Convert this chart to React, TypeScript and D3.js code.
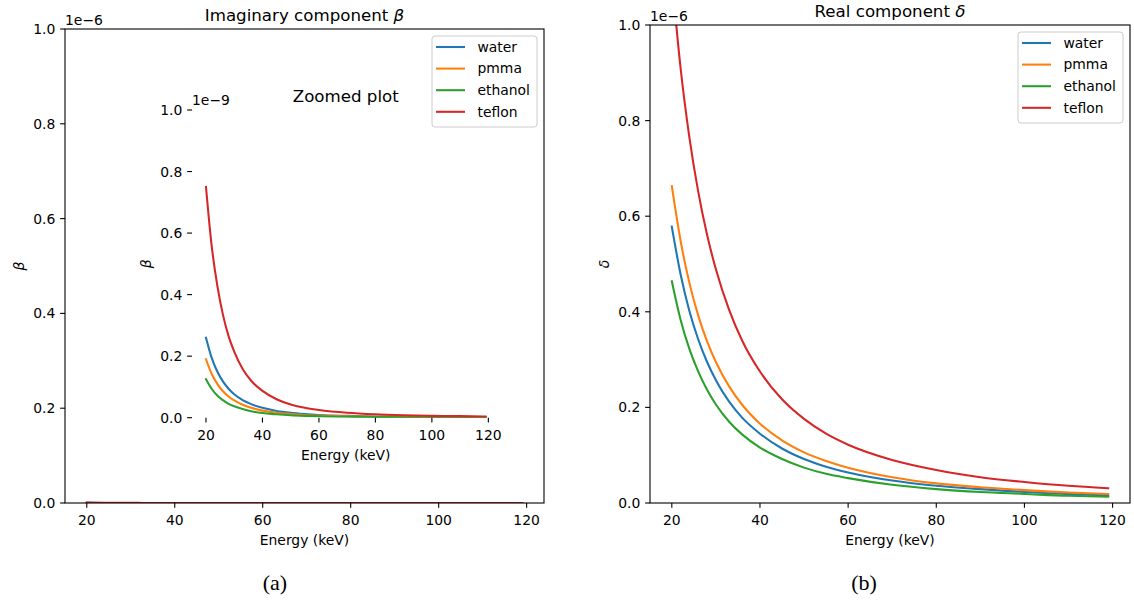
import React from 'react';
import * as d3 from 'd3';

// Photon energies (keV) at which values were read
const energy = [20, 22, 24, 26, 28, 30, 33, 36, 40, 45, 50, 55, 60, 70, 80, 90, 100, 110, 119];
const materials = ['water', 'pmma', 'ethanol', 'teflon'];
const colors = ['#1f77b4', '#ff7f0e', '#2ca02c', '#d62728'];

// Imaginary component beta, in units of 1e-9
const betaWater = [0.26, 0.195, 0.15, 0.118, 0.094, 0.076, 0.057, 0.044, 0.032, 0.022, 0.016, 0.012, 0.009, 0.006, 0.004, 0.003, 0.0025, 0.002, 0.0018];
const betaPmma = [0.19, 0.143, 0.11, 0.086, 0.069, 0.056, 0.042, 0.032, 0.023, 0.016, 0.012, 0.009, 0.007, 0.0045, 0.003, 0.0023, 0.0018, 0.0015, 0.0013];
const betaEthanol = [0.125, 0.094, 0.072, 0.057, 0.045, 0.037, 0.028, 0.021, 0.015, 0.011, 0.008, 0.006, 0.0045, 0.003, 0.002, 0.0015, 0.0012, 0.001, 0.0009];
const betaTeflon = [0.75, 0.56, 0.43, 0.335, 0.265, 0.215, 0.158, 0.12, 0.087, 0.06, 0.043, 0.032, 0.025, 0.016, 0.011, 0.008, 0.006, 0.005, 0.004];

// Real component delta, in units of 1e-6
const deltaWater = [0.578, 0.478, 0.401, 0.342, 0.295, 0.257, 0.212, 0.178, 0.145, 0.114, 0.092, 0.076, 0.064, 0.047, 0.036, 0.029, 0.023, 0.019, 0.016];
const deltaPmma = [0.663, 0.548, 0.46, 0.392, 0.338, 0.295, 0.244, 0.205, 0.166, 0.131, 0.106, 0.088, 0.074, 0.054, 0.041, 0.033, 0.027, 0.022, 0.019];
const deltaEthanol = [0.464, 0.383, 0.322, 0.275, 0.237, 0.206, 0.17, 0.143, 0.116, 0.092, 0.074, 0.061, 0.052, 0.038, 0.029, 0.023, 0.019, 0.015, 0.013];
const deltaTeflon = [1.1, 0.909, 0.764, 0.651, 0.561, 0.489, 0.404, 0.339, 0.275, 0.217, 0.176, 0.145, 0.122, 0.09, 0.069, 0.054, 0.044, 0.036, 0.031];

const xTicks = [20, 40, 60, 80, 100, 120];
const yTicks = [0, 0.2, 0.4, 0.6, 0.8, 1.0];
const xDomain: [number, number] = [15.05, 123.95];

const FONT = '"DejaVu Sans", sans-serif';
const FS = 13.9;
const TICK = 4.86;

type PanelProps = {
  id: string;
  left: number; right: number; top: number; bottom: number;
  series: number[][];
  scaleDiv: number;
  title: string;
  titleX?: number;
  titleItalic?: string;
  ylabel: string;
  offset: string;
  offsetDy: number;
  spines: boolean;
};

function Panel(p: PanelProps) {
  const x = d3.scaleLinear().domain(xDomain).range([p.left, p.right]);
  const y = d3.scaleLinear().domain([0, 1]).range([p.bottom, p.top]);
  const line = d3.line<number>()
    .x((_, i) => x(energy[i]))
    .y((d) => y(d / p.scaleDiv))
    .curve(d3.curveMonotoneX);
  const fmt = d3.format('.1f');
  const cx = (p.left + p.right) / 2;
  const cy = (p.top + p.bottom) / 2;
  return (
    <g>
      <defs>
        <clipPath id={p.id}>
          <rect x={p.left} y={p.top} width={p.right - p.left} height={p.bottom - p.top} />
        </clipPath>
      </defs>
      <g clipPath={`url(#${p.id})`}>
        {p.series.map((s, k) => (
          <path key={k} d={line(s) || ''} fill="none" stroke={colors[k]} strokeWidth={2.08} strokeLinejoin="round" strokeLinecap="square" />
        ))}
      </g>
      {p.spines && (
        <rect x={p.left} y={p.top} width={p.right - p.left} height={p.bottom - p.top} fill="none" stroke="#000" strokeWidth={1.1} />
      )}
      {xTicks.map((t) => (
        <g key={'x' + t}>
          <line x1={x(t)} x2={x(t)} y1={p.bottom} y2={p.bottom + TICK} stroke="#000" strokeWidth={1.1} />
          <text x={x(t)} y={p.bottom + 22} textAnchor="middle" fontFamily={FONT} fontSize={FS} fill="#000">{t}</text>
        </g>
      ))}
      {yTicks.map((t) => (
        <g key={'y' + t}>
          <line x1={p.left - TICK} x2={p.left} y1={y(t)} y2={y(t)} stroke="#000" strokeWidth={1.1} />
          <text x={p.left - 9.7} y={y(t) + 5} textAnchor="end" fontFamily={FONT} fontSize={FS} fill="#000">{fmt(t)}</text>
        </g>
      ))}
      <text x={p.left} y={p.top - p.offsetDy} fontFamily={FONT} fontSize={FS} fill="#000">{p.offset}</text>
      <text x={cx} y={p.bottom + 42} textAnchor="middle" fontFamily={FONT} fontSize={FS} fill="#000">Energy (keV)</text>
      <text transform={`translate(${p.left - 41},${cy}) rotate(-90)`} textAnchor="middle" fontFamily={FONT} fontSize={FS} fontStyle="italic" fill="#000">{p.ylabel}</text>
      <text x={p.titleX ?? cx} y={p.top - 8.3} textAnchor="middle" fontFamily={FONT} fontSize={16.67} fill="#000">
        {p.title}
        {p.titleItalic && <tspan fontStyle="italic">{p.titleItalic}</tspan>}
      </text>
    </g>
  );
}

function Legend({ frameRight, frameTop }: { frameRight: number; frameTop: number }) {
  const w = 105;
  const h = 91;
  const bx = frameRight - 7 - w;
  const by = frameTop + 7;
  return (
    <g>
      <rect x={bx} y={by} width={w} height={h} rx={3} ry={3} fill="#fff" fillOpacity={0.8} stroke="#cccccc" strokeWidth={1} />
      {materials.map((m, i) => {
        const ry = by + 11 + i * 21.6;
        return (
          <g key={m}>
            <line x1={bx + 4} x2={bx + 33} y1={ry} y2={ry} stroke={colors[i]} strokeWidth={2.08} />
            <text x={bx + 45.5} y={ry + 4.8} fontFamily={FONT} fontSize={FS} fill="#000">{m}</text>
          </g>
        );
      })}
    </g>
  );
}

export default function App() {
  const betaSeries = [betaWater, betaPmma, betaEthanol, betaTeflon];
  const deltaSeries = [deltaWater, deltaPmma, deltaEthanol, deltaTeflon];
  return (
    <svg width={1134} height={606} style={{ position: 'absolute', left: 0, top: 0, background: '#fff' }}>
      <rect x={0} y={0} width={1134} height={606} fill="#fff" />
      {/* (a) main */}
      <Panel id="clipA" left={65} right={544} top={29} bottom={503} series={betaSeries} scaleDiv={1000}
        title="Imaginary component " titleItalic="β" ylabel="β" offset="1e−6" offsetDy={4} spines={true} />
      {/* (a) inset */}
      <Panel id="clipI" left={192} right={499.5} top={110} bottom={417.7} series={betaSeries} scaleDiv={1}
        title="Zoomed plot" ylabel="β" offset="1e−9" offsetDy={5} spines={false} />
      <Legend frameRight={544} frameTop={29} />
      {/* (b) */}
      <Panel id="clipB" left={650} right={1130} top={25} bottom={503} series={deltaSeries} scaleDiv={1}
        title="Real component " titleItalic="δ" ylabel="δ" offset="1e−6" offsetDy={4} spines={true} />
      <Legend frameRight={1130} frameTop={25} />
      <text x={275} y={590} textAnchor="middle" fontFamily='"Liberation Serif", serif' fontSize={22} fill="#000">(a)</text>
      <text x={864} y={590} textAnchor="middle" fontFamily='"Liberation Serif", serif' fontSize={22} fill="#000">(b)</text>
    </svg>
  );
}
